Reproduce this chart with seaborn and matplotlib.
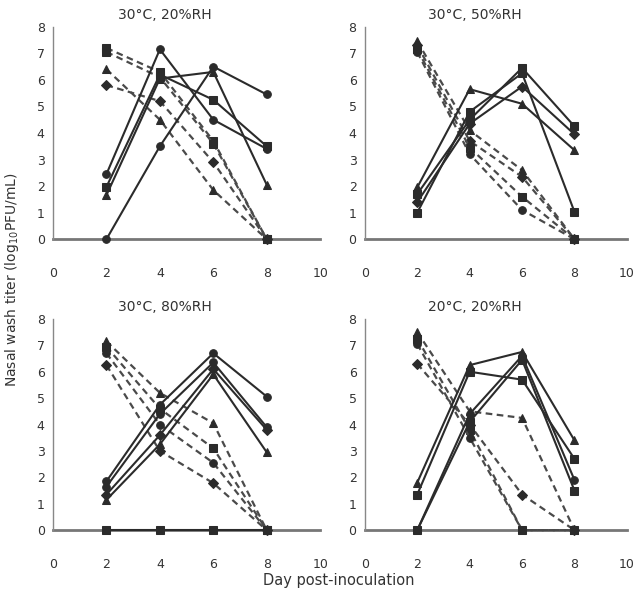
import matplotlib
matplotlib.use("Agg")
import matplotlib.pyplot as plt
import seaborn as sns
import pandas as pd

sns.set_theme(style="white")
plt.rcParams['font.family'] = ['DejaVu Sans']

days = [2, 4, 6, 8]
panel_titles = ["30\u00b0C, 20%RH", "30\u00b0C, 50%RH", "30\u00b0C, 80%RH", "20\u00b0C, 20%RH"]
x_ticks = [0, 2, 4, 6, 8, 10]
y_ticks = [0, 1, 2, 3, 4, 5, 6, 7, 8]

# Panel 1: 30C, 20%RH
p1_donors = [[7.2, 6.3, 3.7, 0.0], [7.05, 6.1, 3.6, 0.0], [6.4, 4.5, 1.85, 0.0], [5.8, 5.2, 2.9, 0.0]]
p1_donor_markers = ['s', 's', '^', 'D']
p1_contacts = [[2.45, 7.15, 4.5, 3.4], [1.97, 6.2, 5.25, 3.5], [1.66, 6.05, 6.3, 2.05], [0.0, 3.5, 6.5, 5.45]]
p1_contact_markers = ['o', 's', '^', 'o']

# Panel 2: 30C, 50%RH
p2_donors = [[7.45, 4.1, 2.6, 0.0], [7.3, 3.7, 2.35, 0.0], [7.15, 3.45, 1.6, 0.0], [7.05, 3.2, 1.1, 0.0]]
p2_donor_markers = ['^', 'D', 's', 'o']
p2_contacts = [[1.95, 5.65, 5.1, 3.35], [1.7, 4.5, 6.45, 4.25], [1.4, 4.35, 5.75, 3.95], [1.0, 4.8, 6.25, 1.03]]
p2_contact_markers = ['^', 's', 'D', 's']

# Panel 3: 30C, 80%RH
p3_donors = [[7.15, 5.2, 4.05, 0.0], [6.95, 4.6, 3.1, 0.0], [6.7, 4.0, 2.55, 0.0], [6.25, 3.0, 1.78, 0.0]]
p3_donor_markers = ['^', 's', 'o', 'D']
p3_contacts = [[1.85, 4.75, 6.7, 5.06], [1.65, 4.4, 6.35, 3.9], [1.35, 3.6, 6.1, 3.8], [1.15, 3.25, 5.9, 2.95]]
p3_contact_markers = ['o', 'o', 'D', '^']
p3_uninfected = [[0.0, 0.0, 0.0, 0.0]]
p3_uninfected_markers = ['s']

# Panel 4: 20C, 20%RH
p4_donors = [[7.5, 4.5, 4.25, 0.0], [6.3, 4.0, 1.35, 0.0], [7.25, 3.8, 0.0, 0.0], [7.05, 3.5, 0.0, 0.0]]
p4_donor_markers = ['^', 'D', 's', 'o']
p4_contacts = [[1.8, 6.25, 6.75, 3.4], [1.35, 6.0, 5.7, 2.7], [0.0, 4.4, 6.6, 1.9], [0.0, 4.1, 6.45, 1.5]]
p4_contact_markers = ['^', 's', 'o', 's']

panels = [
    (p1_donors, p1_donor_markers, p1_contacts, p1_contact_markers, [], []),
    (p2_donors, p2_donor_markers, p2_contacts, p2_contact_markers, [], []),
    (p3_donors, p3_donor_markers, p3_contacts, p3_contact_markers, p3_uninfected, p3_uninfected_markers),
    (p4_donors, p4_donor_markers, p4_contacts, p4_contact_markers, [], []),
]

fig = plt.figure(figsize=(6.39, 5.95), dpi=100)
rects = [
    [0.083, 0.598, 0.418, 0.357],
    [0.571, 0.598, 0.410, 0.357],
    [0.083, 0.109, 0.418, 0.355],
    [0.571, 0.109, 0.410, 0.355],
]

line_col = '#2b2b2b'
dash_col = '#4a4a4a'
text_col = '#333333'

for i, (rect, (dons, dmk, cons, cmk, zer, zmk)) in enumerate(zip(rects, panels)):
    ax = fig.add_axes(rect)
    for vals, mk in zip(dons, dmk):
        df = pd.DataFrame({'day': days, 'titer': vals})
        sns.lineplot(data=df, x='day', y='titer', ax=ax, color=dash_col, lw=1.6,
                     linestyle=(0, (3, 2)), marker=mk, markersize=5.5,
                     markeredgecolor=line_col, markerfacecolor=line_col, clip_on=False, zorder=3)
    for vals, mk in zip(cons, cmk):
        df = pd.DataFrame({'day': days, 'titer': vals})
        sns.lineplot(data=df, x='day', y='titer', ax=ax, color=line_col, lw=1.5,
                     marker=mk, markersize=5.5,
                     markeredgecolor=line_col, markerfacecolor=line_col, clip_on=False, zorder=4)
    for vals, mk in zip(zer, zmk):
        df = pd.DataFrame({'day': days, 'titer': vals})
        sns.lineplot(data=df, x='day', y='titer', ax=ax, color=line_col, lw=1.5,
                     marker=mk, markersize=6,
                     markeredgecolor=line_col, markerfacecolor=line_col, clip_on=False, zorder=4)
    ax.set_xlim(0, 10)
    ax.set_ylim(0, 8)
    ax.set_xticks(x_ticks)
    ax.set_yticks(y_ticks)
    ax.set_xlabel('')
    ax.set_ylabel('')
    for s in ['top', 'right']:
        ax.spines[s].set_visible(False)
    ax.spines['left'].set_color('#888888')
    ax.spines['left'].set_linewidth(1.0)
    ax.spines['bottom'].set_color('#777777')
    ax.spines['bottom'].set_linewidth(2.0)
    ax.spines['bottom'].set_zorder(2)
    ax.tick_params(axis='x', direction='out', length=3, width=0.8, color='#888888',
                   pad=17, labelsize=9, labelcolor=text_col)
    ax.tick_params(axis='y', direction='out', length=3, width=0.8, color='#888888',
                   pad=3, labelsize=9, labelcolor=text_col)
    ax.patch.set_alpha(0)
    ax.text(4.2, 8.45, panel_titles[i], ha='center', va='center', fontsize=10, color=text_col)

fig.text(0.019, 0.53, 'Nasal wash titer (log$_{10}$PFU/mL)', rotation=90, ha='center', va='center',
         fontsize=10, color=text_col)
fig.text(0.53, 0.025, 'Day post-inoculation', ha='center', va='center', fontsize=10.5, color=text_col)

fig.savefig('out.png', dpi=100)
